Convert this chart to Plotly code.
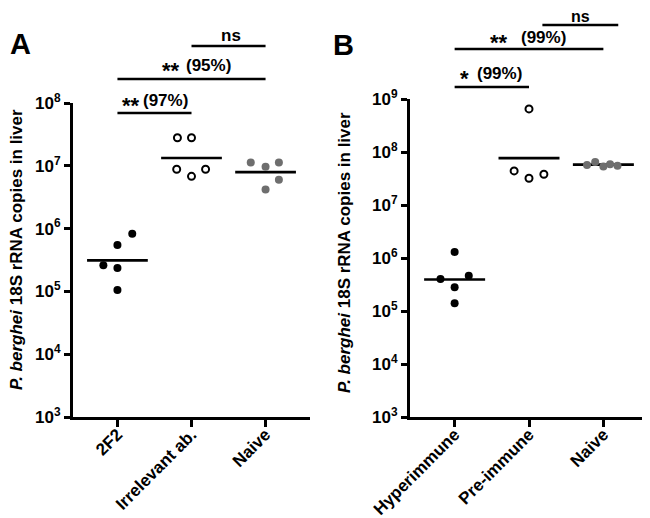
import numpy as np
import plotly.graph_objects as go

# ---------------- data ----------------
groups_A = ["2F2", "Irrelevant ab.", "Naive"]
groups_B = ["Hyperimmune", "Pre-immune", "Naive"]

a_2f2 = [8.3e5, 5.5e5, 2.6e5, 2.35e5, 1.05e5]
a_irrelevant = [2.8e7, 2.8e7, 8.8e6, 6.8e6, 8.8e6]
a_naive = [1.13e7, 9.7e6, 1.13e7, 6.0e6, 4.2e6]

b_hyper = [1.3e6, 4.0e5, 4.6e5, 2.8e5, 1.4e5]
b_pre = [6.5e8, 4.4e7, 3.2e7, 3.8e7]
b_naive = [5.7e7, 6.5e7, 5.3e7, 5.9e7, 5.5e7]

# horizontal scatter offsets of the dots (category units)
jit_a_2f2 = [0.2, 0.0, -0.19, 0.0, 0.0]
jit_a_irr = [-0.19, 0.0, -0.2, 0.0, 0.19]
jit_a_nai = [-0.2, 0.0, 0.18, 0.18, 0.0]
jit_b_hyp = [0.0, -0.19, 0.19, 0.0, 0.0]
jit_b_pre = [0.0, -0.2, 0.0, 0.2]
jit_b_nai = [-0.22, -0.11, 0.0, 0.09, 0.19]

y_ticks_A = [1e3, 1e4, 1e5, 1e6, 1e7, 1e8]
y_ticks_B = [1e3, 1e4, 1e5, 1e6, 1e7, 1e8, 1e9]
y_title = "<b><i>P. berghei</i> 18S rRNA copies in liver</b>"

FONT = "Liberation Sans"
BLACK = "black"
GREY = "#6e6e6e"

styles = {
    "filled": dict(color=BLACK, size=8, line=dict(width=0)),
    "open": dict(color="white", size=7, line=dict(color=BLACK, width=2)),
    "grey": dict(color=GREY, size=8, line=dict(width=0)),
}

fig = go.Figure()

def add_group(xref, yref, idx, values, jitter, style):
    vals = np.array(values, dtype=float)
    gm = 10 ** np.mean(np.log10(vals))
    fig.add_trace(go.Scatter(x=[idx - 0.41, idx + 0.41], y=[gm, gm], mode="lines",
                             line=dict(color=BLACK, width=2.6), xaxis=xref, yaxis=yref,
                             showlegend=False, hoverinfo="skip"))
    fig.add_trace(go.Scatter(x=[idx + j for j in jitter], y=vals, mode="markers",
                             marker=dict(symbol="circle", **styles[style]),
                             xaxis=xref, yaxis=yref, showlegend=False))

add_group("x", "y", 0, a_2f2, jit_a_2f2, "filled")
add_group("x", "y", 1, a_irrelevant, jit_a_irr, "open")
add_group("x", "y", 2, a_naive, jit_a_nai, "grey")
add_group("x2", "y2", 0, b_hyper, jit_b_hyp, "filled")
add_group("x2", "y2", 1, b_pre, jit_b_pre, "open")
add_group("x2", "y2", 2, b_naive, jit_b_nai, "grey")

# the page body adds an 8px margin, so the figure is 8px smaller each way
OFF = 8
W, H = 650 - OFF, 518 - OFF
def fx(page_x):
    return (page_x - OFF) / W
def fy(page_y):
    return (H - (page_y - OFF)) / H

xaxis_common = dict(range=[-0.6, 2.6], tickvals=[0, 1, 2], tickangle=-45,
                    showline=True, linewidth=3, linecolor=BLACK, ticks="outside",
                    ticklen=7, tickwidth=3, tickcolor=BLACK, showgrid=False,
                    zeroline=False, automargin=False, ticklabelstandoff=-9,
                    tickfont=dict(family=FONT, size=17, color=BLACK))
yaxis_common = dict(type="log", showline=True, linewidth=3, linecolor=BLACK,
                    ticks="outside", ticklen=6, tickwidth=3, tickcolor=BLACK,
                    showgrid=False, zeroline=False, automargin=False,
                    tickfont=dict(family=FONT, size=17, color=BLACK))

def sup_labels(vals):
    return ["<b>10<sup>%d</sup></b>" % int(round(np.log10(v))) for v in vals]

fig.update_layout(
    width=W, height=H, margin=dict(l=0, r=0, t=0, b=0, autoexpand=False),
    plot_bgcolor="white", paper_bgcolor="white",
    font=dict(family=FONT, color=BLACK),
    xaxis=dict(domain=[fx(73), fx(310)], anchor="y",
               ticktext=["<b>%s</b>" % g for g in groups_A], **xaxis_common),
    yaxis=dict(domain=[fy(417), fy(103)], anchor="x", range=[3, 8],
               tickvals=y_ticks_A, ticktext=sup_labels(y_ticks_A), **yaxis_common),
    xaxis2=dict(domain=[fx(410), fx(648)], anchor="y2",
                ticktext=["<b>%s</b>" % g for g in groups_B], **xaxis_common),
    yaxis2=dict(domain=[fy(417), fy(99)], anchor="x2", range=[3, 9],
                tickvals=y_ticks_B, ticktext=sup_labels(y_ticks_B), **yaxis_common),
)

# y titles and panel letters
for xp, yp in [(16, 250), (345, 253)]:
    fig.add_annotation(x=fx(xp), y=fy(yp), xref="paper", yref="paper", text=y_title,
                       textangle=-90, showarrow=False, xanchor="center", yanchor="middle",
                       font=dict(family=FONT, size=17, color=BLACK))
fig.add_annotation(x=0, y=fy(44), xref="paper", yref="paper", text="<b>A</b>",
                   showarrow=False, xanchor="left", yanchor="middle",
                   font=dict(family=FONT, size=29, color=BLACK))
fig.add_annotation(x=fx(344), y=fy(45), xref="paper", yref="paper", text="<b>B</b>",
                   showarrow=False, xanchor="center", yanchor="middle",
                   font=dict(family=FONT, size=29, color=BLACK))

# significance bars: (xaxis, x0, x1, y_px)
bars = [("x", 0, 1, 113), ("x", 0, 2, 79), ("x", 1, 2, 46),
        ("x2", 0, 1, 87), ("x2", 0, 2, 49), ("x2", 1.18, 2.2, 25)]
for xr, x0, x1, yp in bars:
    fig.add_shape(type="line", xref=xr, yref="paper", x0=x0, x1=x1,
                  y0=fy(yp), y1=fy(yp), line=dict(color=BLACK, width=2.5))

# significance labels: (xaxis, stars, stars_left_x, pct_text, pct_left_x, y_px)
labels = [("x", "**", 0.03, "(97%)", 0.32, 100),
          ("x", "**", 0.58, "(95%)", 0.90, 65),
          ("x2", "*", 0.05, "(99%)", 0.27, 74),
          ("x2", "**", 0.45, "(99%)", 0.86, 37)]
for xr, stars, sx, pct, pxl, yp in labels:
    fig.add_annotation(x=sx, y=fy(yp), xref=xr, yref="paper", text="<b>%s</b>" % stars,
                       showarrow=False, xanchor="left", yanchor="middle", yshift=-5,
                       font=dict(family=FONT, size=22, color=BLACK))
    fig.add_annotation(x=pxl, y=fy(yp), xref=xr, yref="paper", text="<b>%s</b>" % pct,
                       showarrow=False, xanchor="left", yanchor="middle",
                       font=dict(family=FONT, size=17, color=BLACK))
fig.add_annotation(x=1.54, y=fy(35), xref="x", yref="paper", text="<b>ns</b>",
                   showarrow=False, xanchor="center", yanchor="middle",
                   font=dict(family=FONT, size=17, color=BLACK))
fig.add_annotation(x=1.69, y=fy(26.5), xref="x2", yref="paper", text="<b>ns</b>",
                   showarrow=False, xanchor="center", yanchor="bottom", borderpad=0,
                   font=dict(family=FONT, size=16, color=BLACK))

fig.write_html("out.html")
